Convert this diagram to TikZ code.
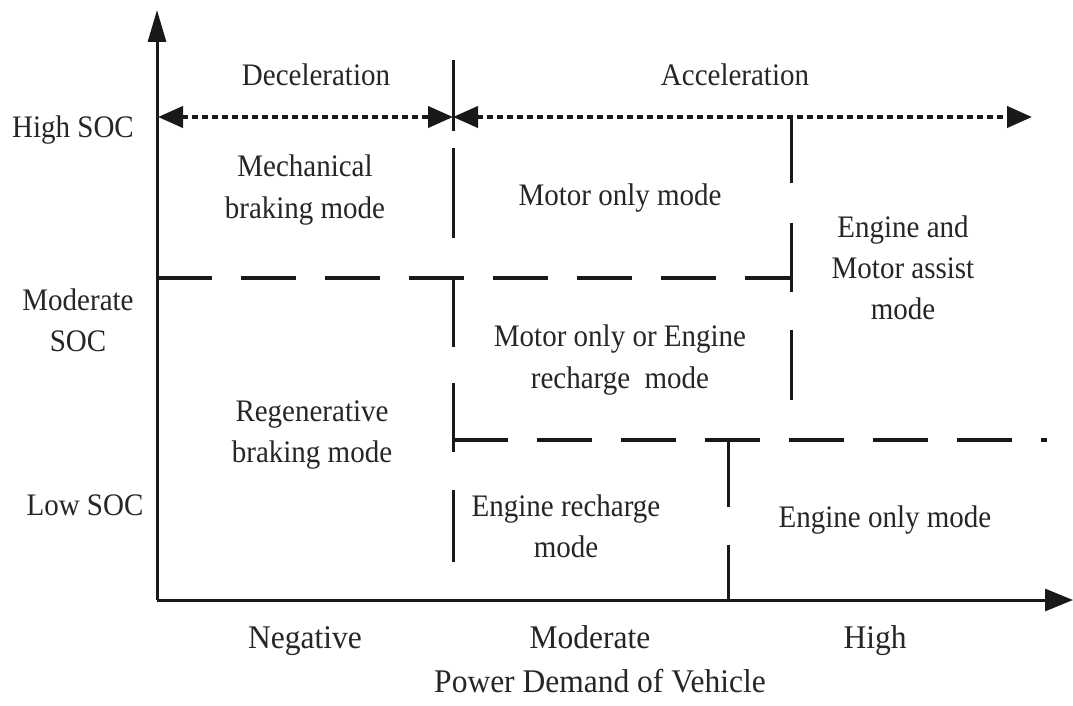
\documentclass[tikz,border=0pt]{standalone}
\usepackage{fontspec}
\setmainfont{Liberation Serif}
\usetikzlibrary{arrows.meta}
\begin{document}
\begin{tikzpicture}[x=1pt,y=-1pt,
  lbl/.style={font=\fontsize{29}{38}\selectfont, align=center, inner sep=0pt, text=black!85, yscale=1.08},
  axlbl/.style={font=\fontsize{31.5}{38}\selectfont, inner sep=0pt, text=black!85, yscale=1.05, anchor=base},
  axis/.style={line width=3pt, draw=black!90},
  divider/.style={line width=3pt, draw=black!90},
  hdash/.style={line width=4.5pt, draw=black!90, dash pattern=on 55pt off 29pt},
  dotline/.style={line width=4pt, draw=black!90, dash pattern=on 6pt off 4pt}
]
\useasboundingbox (0,0) rectangle (1073,706);
\fill[white] (0,0) rectangle (1073,706);

% axes
\coordinate (O) at (157,600);
\coordinate (Ytop) at (157,10);
\coordinate (Xend) at (1073,600);
\draw[axis, -{Triangle[length=32pt,width=18pt]}] (O) -- (Ytop);
\draw[axis, -{Triangle[length=28pt,width=22pt]}] (O) -- (Xend);

% top arrows
\coordinate (L) at (158,117);
\coordinate (M) at (453,117);
\coordinate (R) at (1032,117);
\draw[dotline, {Triangle[length=25pt,width=21pt]}-{Triangle[length=25pt,width=21pt]}] (L) -- (M);
\draw[dotline, {Triangle[length=25pt,width=21pt]}-{Triangle[length=25pt,width=21pt]}] (M) -- (R);
\coordinate (Tt) at (453,60);
\coordinate (Tb) at (453,131);
\draw[divider] (Tt) -- (Tb);

% vertical divider at x=453
\foreach \a/\b in {148/238, 278/347, 383/452, 490/562}{
  \draw[divider] (453,\a) -- (453,\b);
}
% vertical divider at x=791
\foreach \a/\b in {117/183, 223/292, 330/400}{
  \draw[divider] (791,\a) -- (791,\b);
}
% vertical divider at x=728
\foreach \a/\b in {440/507, 545/600}{
  \draw[divider] (728,\a) -- (728,\b);
}

% horizontal dashed lines
\coordinate (H1a) at (157,278);
\coordinate (H1b) at (791,278);
\draw[hdash] (H1a) -- (H1b);
\coordinate (H2a) at (453,440);
\coordinate (H2b) at (1047,440);
\draw[hdash] (H2a) -- (H2b);

% labels
\node[lbl] (dec) at (316,75) {Deceleration};
\node[lbl] (acc) at (735,75) {Acceleration};
\node[lbl] (hsoc) at (73,130) {High SOC};
\node[lbl] (msoc) at (78,320) {Moderate\\SOC};
\node[lbl] (lsoc) at (85,505) {Low SOC};

\node[lbl] (mech) at (305,190) {Mechanical\\braking mode};
\node[lbl] (mom) at (620,198) {Motor only mode};
\node[lbl] (ema) at (903,268) {Engine and\\Motor assist\\mode};
\node[lbl] (moer) at (620,360) {Motor only or Engine\\recharge\ \ mode};
\node[lbl] (regen) at (312,435) {Regenerative\\braking mode};
\node[lbl] (erm) at (566,526) {Engine recharge\\mode};
\node[lbl] (eom) at (885,520) {Engine only mode};

\node[axlbl] (neg) at (305,648) {Negative};
\node[axlbl] (mod) at (590,648) {Moderate};
\node[axlbl] (high) at (875,648) {High};
\node[axlbl] (pdv) at (600,692) {Power Demand of Vehicle};
\end{tikzpicture}
\end{document}
